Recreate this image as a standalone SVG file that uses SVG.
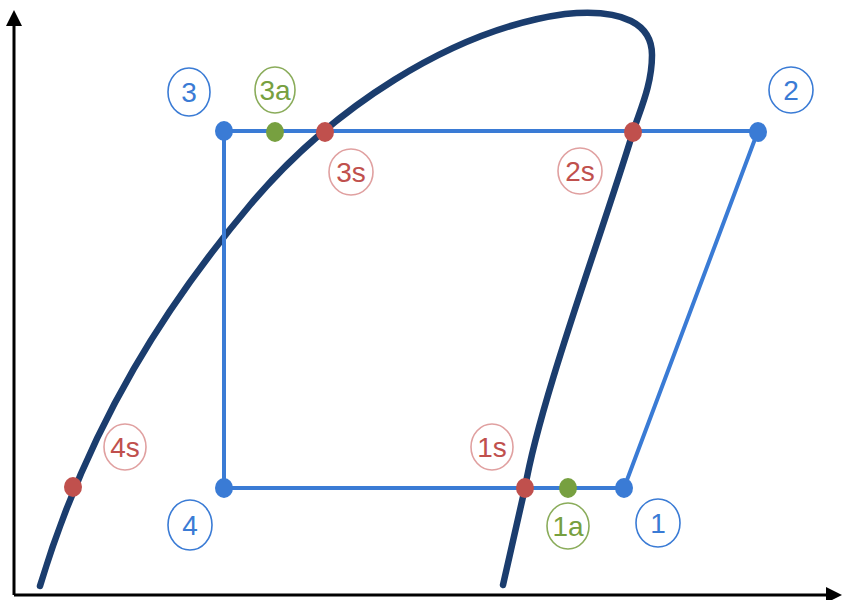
<svg xmlns="http://www.w3.org/2000/svg" width="842" height="600" viewBox="0 0 842 600">
<style>
.ax{stroke:#000;stroke-width:3;fill:none}
.cyc{stroke:#3a7bd5;stroke-width:4;fill:none}
.dome{stroke:#1b3d6e;stroke-width:6.5;fill:none;stroke-linecap:round}
.b{fill:#3a7bd5}.r{fill:#c0504d}.g{fill:#77a040}
.lb{fill:#fff;stroke-width:1.6}
.lbb{stroke:#3a7bd5}.lbr{stroke:#e0a0a0}.lbg{stroke:#8aac5a}
text{font-family:"Liberation Sans",Arial,sans-serif;font-size:28px;text-anchor:middle;dominant-baseline:central}
.tb{fill:#3a7bd5}.tr{fill:#c0504d}.tg{fill:#77a040}
</style>
<g id="axes">
<line class="ax" x1="14" y1="595" x2="14" y2="26"/>
<path d="M6,26 L14,10 L22,26 z" fill="#000"/>
<line class="ax" x1="14" y1="595" x2="826" y2="595"/>
<path d="M826,587 L842,595 L826,603 z" fill="#000"/>
</g>
<g id="connectors">
<path class="dome" d="M40,586 C90,420 170,300 250,205 C330,110 450,30 565,14 C625,8 652,25 652,55 C652,85 640,110 633,132 C600,240 540,400 525,488 L503,585"/>
<path class="cyc" d="M224,131 L758,131 L624,488 L224,488 Z"/>
</g>
<g id="p3"><ellipse class="b" cx="224" cy="131" rx="9" ry="10"/><ellipse class="lb lbb" cx="189" cy="92" rx="21" ry="24"/><text class="tb" x="189" y="92">3</text></g>
<g id="p3a"><ellipse class="g" cx="275" cy="132" rx="9" ry="10"/><ellipse class="lb lbg" cx="275" cy="90" rx="20" ry="23"/><text class="tg" x="275" y="90">3a</text></g>
<g id="p3s"><ellipse class="r" cx="325" cy="132" rx="9" ry="10"/><ellipse class="lb lbr" cx="351" cy="172" rx="22" ry="23"/><text class="tr" x="351" y="172">3s</text></g>
<g id="p2s"><ellipse class="r" cx="633" cy="132" rx="9" ry="10"/><ellipse class="lb lbr" cx="580" cy="171" rx="22" ry="23"/><text class="tr" x="580" y="171">2s</text></g>
<g id="p2"><ellipse class="b" cx="758" cy="132" rx="9" ry="10"/><ellipse class="lb lbb" cx="791" cy="90" rx="22" ry="23"/><text class="tb" x="791" y="90">2</text></g>
<g id="p4s"><ellipse class="r" cx="73" cy="487" rx="9" ry="10"/><ellipse class="lb lbr" cx="125" cy="447" rx="21" ry="23"/><text class="tr" x="125" y="447">4s</text></g>
<g id="p4"><ellipse class="b" cx="224" cy="488" rx="9" ry="10"/><ellipse class="lb lbb" cx="190" cy="525" rx="22" ry="25"/><text class="tb" x="190" y="525">4</text></g>
<g id="p1s"><ellipse class="r" cx="525" cy="488" rx="9" ry="10"/><ellipse class="lb lbr" cx="492" cy="447" rx="21" ry="23"/><text class="tr" x="492" y="447">1s</text></g>
<g id="p1a"><ellipse class="g" cx="568" cy="488" rx="9" ry="10"/><ellipse class="lb lbg" cx="568" cy="526" rx="21" ry="23"/><text class="tg" x="568" y="526">1a</text></g>
<g id="p1"><ellipse class="b" cx="624" cy="488" rx="9" ry="10"/><ellipse class="lb lbb" cx="658" cy="523" rx="22" ry="24"/><text class="tb" x="658" y="523">1</text></g>
</svg>
